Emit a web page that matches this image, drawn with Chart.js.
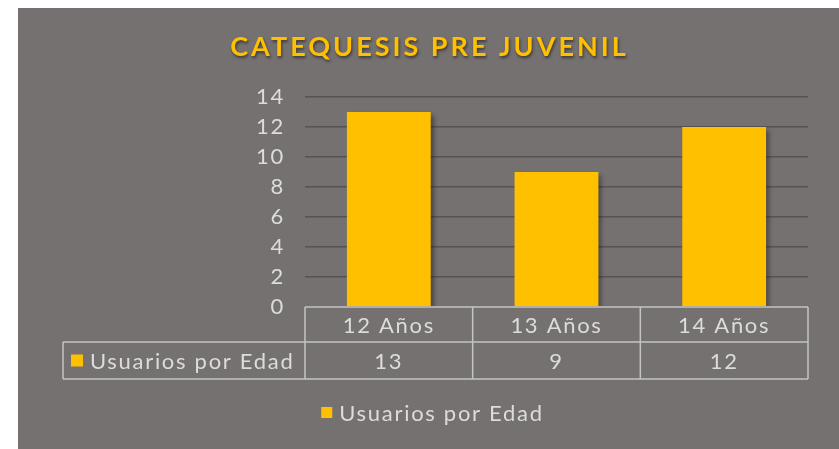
<!DOCTYPE html>
<html>
<head>
<meta charset="utf-8">
<script src="https://cdn.jsdelivr.net/npm/chart.js@4"></script>
<style>
  html, body { margin: 0; padding: 0; background: #ffffff; }
  #panel {
    position: absolute; left: 18px; top: 8px;
    width: 821px; height: 441px;
    background: #767171;
  }
</style>
</head>
<body>
<div id="panel"><canvas id="grafico" width="821" height="441"></canvas></div>
<script>
/* Datos del gráfico */
const titulo = "CATEQUESIS PRE JUVENIL";
const categorias = ["12 Años", "13 Años", "14 Años"];
const serieNombre = "Usuarios por Edad";
const usuarios = [13, 9, 12];
const ejeMin = 0;
const ejeMax = 14;
const ejePaso = 2;

const ORO = "#FFC000";
const TEXTO = "#dcdcdc";
const LINEA_TABLA = "#c4c4c4";
const FUENTE = "Lato, 'DejaVu Sans', sans-serif";
const ESPACIADO = "1.7px";

/* Espaciado de letras para todo el texto (imitar fuente ancha) */
const espaciado = {
    id: "espaciado",
    beforeUpdate(chart) { chart.ctx.letterSpacing = ESPACIADO; },
    beforeDraw(chart) { chart.ctx.letterSpacing = ESPACIADO; }
};

/* Sombra de las barras */
const sombraBarras = {
    id: "sombraBarras",
    beforeDatasetsDraw(chart) {
        const ctx = chart.ctx;
        ctx.save();
        ctx.shadowColor = "rgba(0,0,0,0.45)";
        ctx.shadowBlur = 5;
        ctx.shadowOffsetX = 3;
        ctx.shadowOffsetY = 3;
    },
    afterDatasetsDraw(chart) {
        chart.ctx.restore();
    }
};

/* Título con espaciado de letras */
const tituloPlugin = {
    id: "tituloPlugin",
    afterDraw(chart) {
        const ctx = chart.ctx;
        ctx.save();
        ctx.font = "bold 27px " + FUENTE;
        ctx.letterSpacing = "3px";
        ctx.textAlign = "center";
        ctx.textBaseline = "middle";
        ctx.shadowColor = "rgba(0,0,0,0.5)";
        ctx.shadowBlur = 3;
        ctx.shadowOffsetX = 1;
        ctx.shadowOffsetY = 2;
        ctx.fillStyle = ORO;
        ctx.fillText(titulo, chart.width / 2 + 1, 39);
        ctx.restore();
    }
};

/* Tabla de datos bajo el eje X y leyenda inferior */
const tablaDatos = {
    id: "tablaDatos",
    afterDraw(chart) {
        const ctx = chart.ctx;
        const area = chart.chartArea;
        const x = chart.scales.x;
        const n = categorias.length;

        const fila1Top = area.bottom;
        const fila2Top = area.bottom + 35;
        const fila2Bot = area.bottom + 72;
        const izqTabla = 45;

        ctx.save();
        ctx.strokeStyle = LINEA_TABLA;
        ctx.lineWidth = 1.5;
        ctx.beginPath();
        // horizontales
        ctx.moveTo(area.left, fila1Top); ctx.lineTo(area.right, fila1Top);
        ctx.moveTo(izqTabla, fila2Top); ctx.lineTo(area.right, fila2Top);
        ctx.moveTo(izqTabla, fila2Bot); ctx.lineTo(area.right, fila2Bot);
        // verticales
        ctx.moveTo(izqTabla, fila2Top); ctx.lineTo(izqTabla, fila2Bot);
        for (let i = 0; i <= n; i++) {
            const px = x.getPixelForValue(i - 0.5);
            ctx.moveTo(px, fila1Top); ctx.lineTo(px, fila2Bot);
        }
        ctx.stroke();

        ctx.font = "22px " + FUENTE;
        ctx.letterSpacing = ESPACIADO;
        ctx.fillStyle = TEXTO;
        ctx.textAlign = "center";
        ctx.textBaseline = "middle";
        for (let i = 0; i < n; i++) {
            const px = x.getPixelForValue(i);
            ctx.fillText(categorias[i], px, (fila1Top + fila2Top) / 2 + 1);
            ctx.fillText(String(usuarios[i]), px, (fila2Top + fila2Bot) / 2 + 1);
        }

        // clave de la serie en la tabla
        ctx.fillStyle = ORO;
        ctx.fillRect(izqTabla + 8, (fila2Top + fila2Bot) / 2 - 6, 12, 12);
        ctx.fillStyle = TEXTO;
        ctx.textAlign = "left";
        ctx.fillText(serieNombre, izqTabla + 27, (fila2Top + fila2Bot) / 2 + 1);

        // leyenda inferior
        const ds = chart.data.datasets[0];
        const anchoTexto = ctx.measureText(ds.label).width;
        const anchoTotal = 11 + 7 + anchoTexto;
        const xLeyenda = chart.width / 2 + 4 - anchoTotal / 2;
        const yLeyenda = 405;
        ctx.fillStyle = ds.backgroundColor;
        ctx.fillRect(xLeyenda, yLeyenda - 6, 11, 11);
        ctx.fillStyle = TEXTO;
        ctx.fillText(ds.label, xLeyenda + 18, yLeyenda + 1);
        ctx.restore();
    }
};

const ctx = document.getElementById("grafico");

new Chart(ctx, {
    type: "bar",
    data: {
        labels: categorias,
        datasets: [{
            label: serieNombre,
            data: usuarios,
            backgroundColor: ORO,
            borderWidth: 0,
            barPercentage: 0.5,
            categoryPercentage: 1
        }]
    },
    options: {
        responsive: false,
        animation: false,
        layout: { padding: { top: 89, right: 31, left: 0, bottom: 56 } },
        plugins: {
            title: { display: false },
            tooltip: { enabled: false },
            legend: { display: false }
        },
        scales: {
            x: {
                grid: { display: false },
                border: { display: false },
                ticks: { display: false },
                afterFit(scale) { scale.height = 86; }
            },
            y: {
                min: ejeMin,
                max: ejeMax,
                ticks: {
                    stepSize: ejePaso,
                    color: TEXTO,
                    padding: 20,
                    font: { size: 22, family: FUENTE }
                },
                grid: {
                    drawTicks: false,
                    lineWidth: 1.5,
                    color: c => c.tick.value === 0 ? "rgba(0,0,0,0)" : "#575353"
                },
                border: { display: false },
                afterFit(scale) { scale.width = 287; }
            }
        }
    },
    plugins: [espaciado, sombraBarras, tablaDatos, tituloPlugin]
});
</script>
</body>
</html>
